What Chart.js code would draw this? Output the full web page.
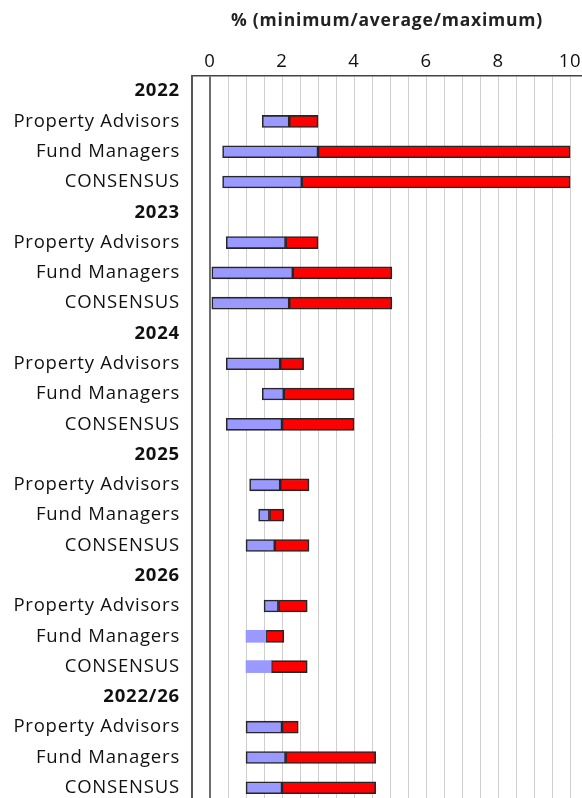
<!DOCTYPE html>
<html>
<head>
<meta charset="utf-8">
<script src="https://cdn.jsdelivr.net/npm/chart.js@4"></script>
<style>
  html, body { margin: 0; padding: 0; background: #fff; overflow: hidden; }
  #wrap { width: 582px; height: 826px; }
</style>
</head>
<body>
<div id="wrap"><canvas id="rangeChart"></canvas></div>
<script>
// Years (group headers) and the three survey sources under each
const years = ['2022', '2023', '2024', '2025', '2026', '2022/26'];
const sources = ['Property Advisors', 'Fund Managers', 'CONSENSUS'];

// % values, one per source row, in year order
const minimum = [1.45, 0.35, 0.35,  0.45, 0.05, 0.05,  0.45, 1.45, 0.45,  1.1, 1.35, 1.0,  1.5, 1.0, 1.0,  1.0, 1.0, 1.0];
const average = [2.2, 3.0, 2.55,   2.1, 2.3, 2.2,     1.95, 2.05, 2.0,   1.95, 1.65, 1.8, 1.9, 1.55, 1.7, 2.0, 2.1, 2.0];
const maximum = [3.0, 10, 10,      3.0, 5.05, 5.05,   2.6, 4.0, 4.0,     2.75, 2.05, 2.75, 2.7, 2.05, 2.7, 2.45, 4.6, 4.6];

// x axis tick labels
const tickLabels = [0, 2, 4, 6, 8, 10];

// build the category rows: header then sources
const rows = [];
const lowPart = [];
const highPart = [];
years.forEach((y, g) => {
    rows.push(y);
    lowPart.push(null);
    highPart.push(null);
    sources.forEach((s, k) => {
        const i = g * sources.length + k;
        rows.push(s);
        lowPart.push([minimum[i], average[i]]);
        highPart.push([average[i], maximum[i]]);
    });
});

// rows where the blue part has no outline (2026 FM / consensus)
const noOutline = [18, 19];

// the original font is a bit wider than Open Sans, so space letters out a little
const spacing = {
    id: 'spacing',
    beforeLayout: (chart) => { chart.ctx.letterSpacing = '0.8px'; },
    beforeDraw: (chart) => { chart.ctx.letterSpacing = '0.8px'; }
};

const ctx = document.getElementById('rangeChart').getContext('2d');
const rangeChart = new Chart(ctx, {
    type: 'bar',
    data: {
        labels: rows,
        datasets: [
            {
                label: 'minimum-average',
                data: lowPart,
                backgroundColor: '#9999ff',
                borderColor: '#262626',
                borderWidth: (c) => noOutline.includes(c.dataIndex) ? 0 : 1.6,
                borderSkipped: false,
                barThickness: 12,
                grouped: false
            },
            {
                label: 'average-maximum',
                data: highPart,
                backgroundColor: '#ff0000',
                borderColor: '#262626',
                borderWidth: 1.6,
                borderSkipped: false,
                barThickness: 12,
                grouped: false
            }
        ]
    },
    plugins: [spacing],
    options: {
        indexAxis: 'y',
        responsive: true,
        maintainAspectRatio: false,
        animation: false,
        layout: { padding: 0 },
        plugins: {
            legend: { display: false },
            tooltip: { enabled: false }
        },
        scales: {
            x: {
                position: 'top',
                min: -0.5,
                max: 10.33,
                afterBuildTicks: (scale) => {
                    const t = [];
                    for (let v = -0.5; v <= 10.001; v += 0.5) t.push({ value: Math.round(v * 10) / 10 });
                    scale.ticks = t;
                },
                afterFit: (scale) => {
                    scale.height = 76;
                    scale.paddingLeft = 0;
                    scale.paddingRight = 0;
                },
                title: {
                    display: true,
                    text: '% (minimum/average/maximum)',
                    color: '#222',
                    font: { family: 'Open Sans', size: 17.5, weight: 'bold' },
                    padding: { top: 11, bottom: 10 }
                },
                ticks: {
                    autoSkip: false,
                    maxRotation: 0,
                    padding: 3,
                    color: '#111',
                    font: { family: 'Open Sans', size: 18.5 },
                    callback: (v) => tickLabels.includes(v) ? v : ''
                },
                grid: {
                    drawTicks: false,
                    color: (c) => c.tick && c.tick.value === 0 ? '#6e6e6e' : '#cfcfcf',
                    lineWidth: (c) => c.tick && c.tick.value === 0 ? 2 : 1
                },
                border: { display: true, color: '#444', width: 1.5 }
            },
            y: {
                afterFit: (scale) => { scale.width = 192; },
                ticks: {
                    autoSkip: false,
                    padding: 12,
                    color: '#111',
                    font: (c) => ({
                        family: 'Open Sans',
                        size: 18.5,
                        weight: years.includes(rows[c.index]) ? 'bold' : 'normal'
                    })
                },
                grid: { display: false, drawTicks: false },
                border: { display: true, color: '#555', width: 2 }
            }
        }
    }
});
</script>
</body>
</html>
